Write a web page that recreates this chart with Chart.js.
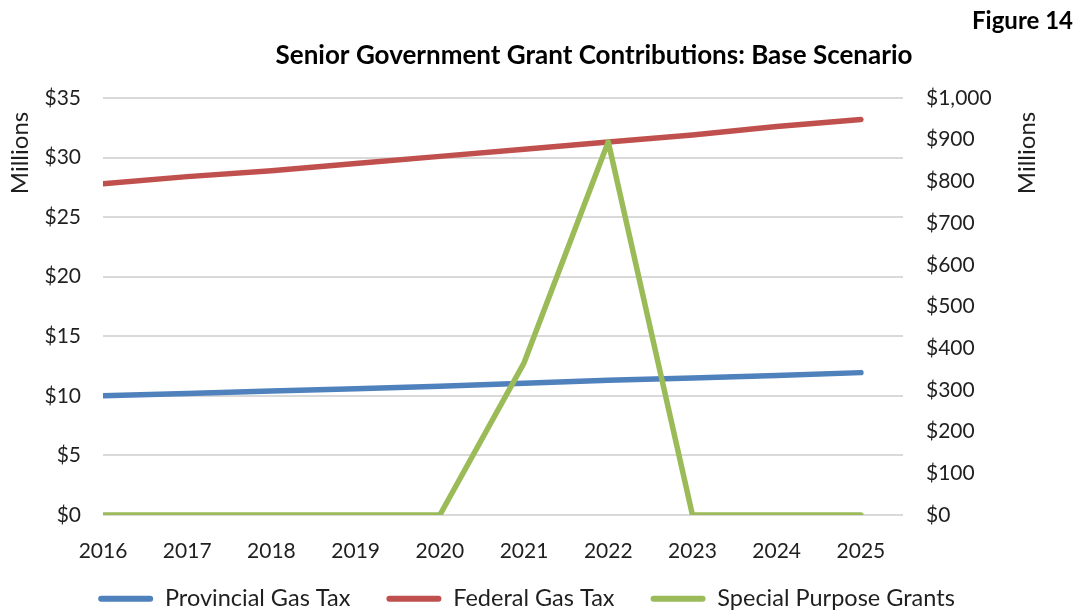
<!DOCTYPE html>
<html>
<head>
<meta charset="utf-8">
<title>Senior Government Grant Contributions</title>
<script src="https://cdn.jsdelivr.net/npm/chart.js@4.4.0/dist/chart.umd.min.js"></script>
<style>
  body { margin: 0; background: #fff; }
  #wrap { width: 1079px; height: 613px; position: relative; }
</style>
</head>
<body>
<div id="wrap"><canvas id="grants"></canvas></div>
<script>
// yearly grant figures, $ millions
const years = [2016, 2017, 2018, 2019, 2020, 2021, 2022, 2023, 2024, 2025];
const provincialGasTax = [10.0, 10.2, 10.4, 10.6, 10.8, 11.05, 11.3, 11.5, 11.7, 11.95];
const federalGasTax = [27.8, 28.4, 28.9, 29.5, 30.1, 30.7, 31.3, 31.9, 32.6, 33.2];
const specialPurposeGrants = [0, 0, 0, 0, 0, 365, 895, 0, 0, 0];

const leftAxisMax = 35, leftAxisStep = 5;
const rightAxisMax = 1000, rightAxisStep = 100;

const textColor = '#1f1f1f';
const gridColor = '#d9d9d9';
Chart.defaults.font.family = 'Lato';
Chart.defaults.color = textColor;

const toPoints = vals => vals.map((v, i) => ({ x: years[i], y: v }));

// title, figure number and the two "Millions" labels
const overlayText = {
  id: 'overlayText',
  afterLayout(chart) {
    // the legend's padding also spaces the items apart, so start its row a bit higher
    chart.legend.top -= 16;
  },
  afterDraw(chart) {
    const ctx = chart.ctx;
    ctx.save();
    ctx.fillStyle = '#000';
    ctx.textBaseline = 'alphabetic';
    ctx.font = 'bold 26px Lato';
    ctx.textAlign = 'center';
    ctx.fillText('Senior Government Grant Contributions: Base Scenario', 594, 64);
    ctx.font = 'bold 24px Lato';
    ctx.textAlign = 'right';
    ctx.fillText('Figure 14', 1073, 29);

    ctx.fillStyle = textColor;
    ctx.font = '24px Lato';
    ctx.textAlign = 'center';
    ctx.textBaseline = 'middle';
    [20, 1027].forEach(x => {
      ctx.save();
      ctx.translate(x, 153);
      ctx.rotate(-Math.PI / 2);
      ctx.fillText('Millions', 0, 0);
      ctx.restore();
    });
    ctx.restore();
  }
};

const lineStyle = color => ({
  borderColor: color,
  backgroundColor: color,
  borderWidth: 5.5,
  borderCapStyle: 'round',
  borderJoinStyle: 'round',
  pointRadius: 0,
  tension: 0
});

new Chart(document.getElementById('grants'), {
  type: 'line',
  data: {
    datasets: [
      { label: 'Provincial Gas Tax', data: toPoints(provincialGasTax), yAxisID: 'y', order: 2, ...lineStyle('#4f81bd') },
      { label: 'Federal Gas Tax', data: toPoints(federalGasTax), yAxisID: 'y', order: 1, ...lineStyle('#c0504d') },
      { label: 'Special Purpose Grants', data: toPoints(specialPurposeGrants), yAxisID: 'y1', order: 0, ...lineStyle('#9bbb59') }
    ]
  },
  options: {
    responsive: true,
    maintainAspectRatio: false,
    animation: false,
    layout: { padding: { top: 98, left: 0, right: 26, bottom: 0 } },
    scales: {
      x: {
        type: 'linear',
        min: years[0],
        max: years[years.length - 1] + 0.5,
        grid: { display: false },
        border: { display: false },
        ticks: {
          stepSize: 1,
          includeBounds: false,
          maxRotation: 0,
          padding: 16,
          font: { size: 21 },
          callback: v => Number.isInteger(v) ? String(v) : ''
        },
        afterFit: s => { s.height = 52; }
      },
      y: {
        position: 'left',
        min: 0,
        max: leftAxisMax,
        grid: { color: gridColor, lineWidth: 2, drawTicks: false },
        border: { display: false },
        ticks: { stepSize: leftAxisStep, padding: 22, font: { size: 21 }, callback: v => '$' + v },
        afterFit: s => { s.width = 103; }
      },
      y1: {
        position: 'right',
        min: 0,
        max: rightAxisMax,
        grid: { display: false, drawTicks: false },
        border: { display: false },
        ticks: { stepSize: rightAxisStep, padding: 23, font: { size: 21 }, callback: v => '$' + v.toLocaleString('en-US') },
        afterFit: s => { s.width = 150; }
      }
    },
    plugins: {
      title: { display: false },
      tooltip: { enabled: false },
      legend: {
        position: 'bottom',
        maxHeight: 46,
        labels: {
          boxWidth: 55,
          boxHeight: 6,
          padding: 36,
          useBorderRadius: true,
          font: { size: 23.5 },
          color: textColor,
          sort: (a, b) => a.datasetIndex - b.datasetIndex,
          generateLabels: chart => Chart.defaults.plugins.legend.labels.generateLabels(chart)
            .map(item => ({ ...item, lineWidth: 0, borderRadius: 3 }))
        }
      }
    }
  },
  plugins: [overlayText]
});
</script>
</body>
</html>
